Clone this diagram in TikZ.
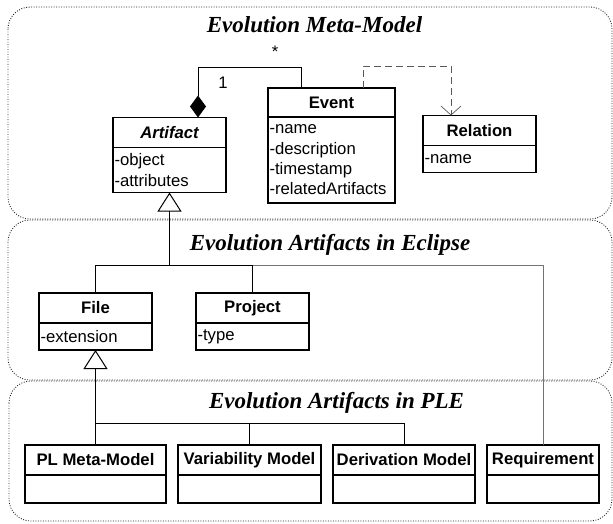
\documentclass[tikz,border=0pt]{standalone}
\usepackage{fontspec}
\setsansfont{Liberation Sans}
\newfontfamily\titlefont{Liberation Serif}
\usetikzlibrary{arrows.meta,positioning}

\begin{document}
\begin{tikzpicture}[x=1pt,y=-1pt,line width=1pt,
    classhead/.style={draw,line width=1.2pt,outer sep=0pt,inner sep=0pt,minimum height=30pt,
                      font=\sffamily\bfseries\fontsize{16.7}{20.3}\selectfont},
    classbody/.style={draw,line width=1.2pt,outer sep=0pt,inner xsep=1.5pt,inner ysep=0pt,
                      align=left,font=\sffamily\fontsize{16.7}{20.3}\selectfont},
    region/.style={draw=black!85,line width=0.9pt,dash pattern=on 0.9pt off 1.6pt,rounded corners=22pt},
    regiontitle/.style={anchor=base,font=\titlefont\bfseries\itshape\fontsize{23}{26}\selectfont},
    mult/.style={font=\sffamily\fontsize{16.7}{20}\selectfont},
    gen/.style={{Triangle[open,length=19pt,width=24pt]}-},
    comp/.style={{Diamond[length=22pt,width=16pt]}-},
    dep/.style={-{Straight Barb[length=9pt,width=20pt,line width=0.7pt]},draw=black!65,
                dash pattern=on 7pt off 4pt}]

\useasboundingbox (0,0) rectangle (613,523);

% the three packages
\draw[region] (8,7) rectangle (612,219);
\draw[region] (8,220) rectangle (612,380);
\draw[region] (9,381) rectangle (612,521);

\node[regiontitle] (metatitle)    at (314.5,32)  {Evolution Meta-Model};
\node[regiontitle] (eclipsetitle) at (330,250)   {Evolution Artifacts in Eclipse};
\node[regiontitle] (pletitle)     at (336.5,408) {Evolution Artifacts in PLE};

% meta-model
\node[classhead,minimum width=113pt,font=\sffamily\bfseries\itshape\fontsize{16.7}{20.3}\selectfont]
      (artifact) at (169.5,132.5) {Artifact};
\node[classbody,text width=110pt,minimum height=45pt] (artifactattr) [below=0pt of artifact]
      {-object\\-attributes};
\node[classhead,minimum width=127pt,minimum height=29pt] (event) at (331.5,102.5) {Event};
\node[classbody,text width=124pt,minimum height=86pt] (eventattr) [below=0pt of event]
      {-name\\-description\\-timestamp\\-relatedArtifacts};
\node[classhead,minimum width=113pt] (relation) at (479.5,130.5) {Relation};
\node[classbody,text width=110pt,minimum height=27pt] (relationattr) [below=0pt of relation]
      {-name};

\node[mult] (mult1)    at (223,83) {1};
\node[mult] (multmany) at (275,52) {*};

% eclipse artifacts
\node[classhead,minimum width=113pt] (file) at (95.5,308) {File};
\node[classbody,text width=110pt,minimum height=27pt] (fileattr) [below=0pt of file]
      {-extension};
\node[classhead,minimum width=113pt] (project) at (252.5,308) {Project};
\node[classbody,text width=110pt,minimum height=27pt] (projectattr) [below=0pt of project]
      {-type};

% ple artifacts
\node[classhead,minimum width=141pt] (plmm) at (95.5,460) {PL Meta-Model};
\node[classbody,minimum width=141pt,minimum height=28pt] (plmmattr) [below=0pt of plmm] {};
\node[classhead,minimum width=143pt] (variability) at (249.5,460) {Variability Model};
\node[classbody,minimum width=143pt,minimum height=28pt] (variabilityattr) [below=0pt of variability] {};
\node[classhead,minimum width=142pt] (derivation) at (404,460) {Derivation Model};
\node[classbody,minimum width=142pt,minimum height=28pt] (derivationattr) [below=0pt of derivation] {};
\node[classhead,minimum width=112pt] (requirement) at (543,460) {Requirement};
\node[classbody,minimum width=112pt,minimum height=28pt] (requirementattr) [below=0pt of requirement] {};

% associations
\draw[comp] ([xshift=28.5pt]artifact.north) -- ++(0,-50) -| ([xshift=-30.5pt]event.north);
\draw[dep]  ([xshift=31.5pt]event.north) -- ++(0,-22) -| ([xshift=-28.5pt]relation.north);

% generalizations
\draw[gen] (artifactattr.south) -- ++(0,73) coordinate (artjoin);
\draw[black!55] (requirement.north) |- (project.north |- artjoin);
\draw (file.north) |- (artjoin) -| (project.north);
\draw[gen] (fileattr.south) -- ++(0,73) coordinate (filejoin);
\draw (plmm.north) |- (filejoin) -| (derivation.north);
\draw (variability.north) -- (variability.north |- filejoin);

\end{tikzpicture}
\end{document}
